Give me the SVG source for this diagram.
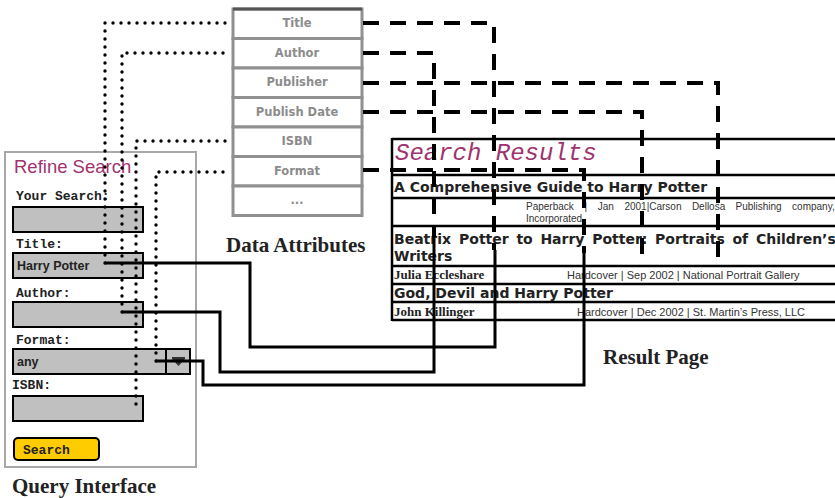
<svg xmlns="http://www.w3.org/2000/svg" width="835" height="498" viewBox="0 0 835 498">
<style>
.panel{fill:#fff;stroke:#a8a8a8;stroke-width:2}
.box{fill:#c0c0c0;stroke:#000;stroke-width:2}
.lbl{font-family:"Liberation Mono",monospace;font-weight:bold;font-size:13px;fill:#222}
.val{font-family:"Liberation Sans",Arial,sans-serif;font-weight:bold;font-size:12.5px;fill:#222}
.cell{fill:#fff;stroke:#909090;stroke-width:3}
.attr{font-family:"DejaVu Sans",sans-serif;font-weight:bold;font-size:11.5px;fill:#8c8c8c;text-anchor:middle}
.cap{font-family:"Liberation Serif","Times New Roman",serif;font-weight:bold;font-size:21px;fill:#222}
.rline{stroke:#000;stroke-width:2.5;fill:none}
.rt{font-family:"DejaVu Sans",sans-serif;font-weight:bold;font-size:14px;fill:#222}
.rd{font-family:"Liberation Sans",Arial,sans-serif;font-size:10px;fill:#333}
.rh{font-family:"Liberation Sans",Arial,sans-serif;font-size:11px;fill:#333}
.ra{font-family:"Liberation Serif","Times New Roman",serif;font-weight:bold;font-size:13px;fill:#222}
.solid{fill:none;stroke:#000;stroke-width:3}
.dashed{fill:none;stroke:#000;stroke-width:4;stroke-dasharray:16 11}
.dotted{fill:none;stroke:#000;stroke-width:3.4;stroke-dasharray:0 8;stroke-linecap:round}
</style>

<g id="query-interface">
  <rect class="panel" x="5" y="152" width="191" height="315"/>
  <text x="14" y="173" font-family="'Liberation Sans',Arial,sans-serif" font-size="18.5" fill="#a0336e">Refine Search</text>
  <text class="lbl" x="16" y="200">Your Search:</text>
  <rect class="box" x="13" y="207" width="130" height="25"/>
  <text class="lbl" x="16" y="248">Title:</text>
  <rect class="box" x="13" y="253" width="130" height="25"/>
  <text class="val" x="17" y="270">Harry Potter</text>
  <text class="lbl" x="16" y="297">Author:</text>
  <rect class="box" x="13" y="302" width="130" height="25"/>
  <text class="lbl" x="16" y="344">Format:</text>
  <rect class="box" x="13" y="349" width="177" height="25"/>
  <line x1="166" y1="349" x2="166" y2="374" stroke="#000" stroke-width="2"/>
  <path d="M172,357 h13 v2 l-6.5,7 l-6.5,-7 z" fill="#333"/>
  <text class="val" x="17" y="366">any</text>
  <text class="lbl" x="12" y="389">ISBN:</text>
  <rect class="box" x="13" y="396" width="130" height="25"/>
  <rect x="14" y="438" width="85" height="22" rx="4" fill="#ffcc00" stroke="#000" stroke-width="2"/>
  <text class="lbl" x="23" y="454" font-size="15.5">Search</text>
  <text class="cap" x="12" y="493" font-size="22">Query Interface</text>
</g>

<g id="data-attributes">
  <rect class="cell" x="233" y="9" width="129" height="29.5"/>
  <rect class="cell" x="233" y="38.5" width="129" height="29.5"/>
  <rect class="cell" x="233" y="68" width="129" height="29.5"/>
  <rect class="cell" x="233" y="97.5" width="129" height="29.5"/>
  <rect class="cell" x="233" y="127" width="129" height="29.5"/>
  <rect class="cell" x="233" y="156.5" width="129" height="29.5"/>
  <rect class="cell" x="233" y="186" width="129" height="29.5"/>
  <line x1="233" y1="9" x2="362" y2="9" stroke="#555" stroke-width="3"/>
  <text class="attr" x="297" y="27">Title</text>
  <text class="attr" x="297" y="57">Author</text>
  <text class="attr" x="297" y="86">Publisher</text>
  <text class="attr" x="297" y="116">Publish Date</text>
  <text class="attr" x="297" y="145">ISBN</text>
  <text class="attr" x="297" y="175">Format</text>
  <text class="attr" x="297" y="204">...</text>
  <text class="cap" x="226" y="252">Data Attributes</text>
</g>

<g id="result-page">
  <rect x="392" y="139" width="450" height="181" fill="#fff"/>
  <line class="rline" x1="392" y1="139" x2="835" y2="139"/>
  <line class="rline" x1="392" y1="175" x2="835" y2="175"/>
  <line class="rline" x1="392" y1="198" x2="835" y2="198"/>
  <line class="rline" x1="392" y1="226" x2="835" y2="226"/>
  <line class="rline" x1="392" y1="266" x2="835" y2="266"/>
  <line class="rline" x1="392" y1="284" x2="835" y2="284"/>
  <line class="rline" x1="392" y1="302" x2="835" y2="302"/>
  <line class="rline" x1="392" y1="320" x2="835" y2="320"/>
  <line class="rline" x1="392" y1="138" x2="392" y2="321"/>
  <text x="395" y="160" font-family="'Liberation Mono','Courier New',monospace" font-style="italic" font-size="24" fill="#a0336e">Search Results</text>
  <text class="rt" x="394" y="192">A Comprehensive Guide to Harry Potter</text>
  <text class="rd" y="210"><tspan x="526">Paperback</tspan><tspan x="584.6">|</tspan><tspan x="597.8">Jan</tspan><tspan x="624.4">2001|Carson</tspan><tspan x="691.9">Dellosa</tspan><tspan x="735.5">Publishing</tspan><tspan x="792.1">company,</tspan></text>
  <text class="rd" x="526" y="222">Incorporated</text>
  <text class="rt" y="244"><tspan x="394">Beatrix</tspan><tspan x="459">Potter</tspan><tspan x="516.4">to</tspan><tspan x="540.4">Harry</tspan><tspan x="592.2">Potter:</tspan><tspan x="655.1">Portraits</tspan><tspan x="732.5">of</tspan><tspan x="755.9">Children’s</tspan></text>
  <text class="rt" x="394" y="261">Writers</text>
  <text class="ra" x="394" y="279">Julia Eccleshare</text>
  <text class="rh" x="567" y="279">Hardcover | Sep 2002 | National Portrait Gallery</text>
  <text class="rt" x="394" y="298">God, Devil and Harry Potter</text>
  <text class="ra" x="394" y="316">John Killinger</text>
  <text class="rh" x="577" y="316">Hardcover | Dec 2002 | St. Martin’s Press, LLC</text>
  <text class="cap" x="603" y="364">Result Page</text>
</g>

<g id="connectors">
  <path class="dotted" d="M105,263 V23 H229"/>
  <path class="dotted" d="M122,312 V53 H229"/>
  <path class="dotted" d="M136,404 V141 H229"/>
  <path class="dotted" d="M156,361 V172 H229"/>
  <path class="dashed" d="M363,23 H494 V250"/>
  <path class="dashed" d="M363,53 H434 V237"/>
  <path class="dashed" d="M363,83 H718 V262"/>
  <path class="dashed" d="M363,112 H642 V262"/>
  <path class="dashed" d="M363,170 H584 V253"/>
  <path class="solid" d="M105,263 H250 V347 H495 V250"/>
  <path class="solid" d="M122,312 H220 V372 H434 V237"/>
  <path class="solid" d="M156,361 H203 V385 H584 V253"/>
</g>
</svg>
